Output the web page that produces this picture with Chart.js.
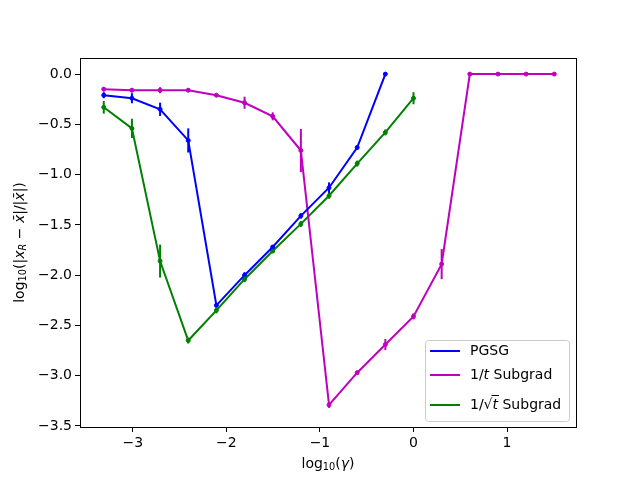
<!DOCTYPE html>
<html>
<head>
<meta charset="utf-8">
<script src="https://cdn.jsdelivr.net/npm/chart.js@4"></script>
<style>
  body { margin: 0; background: #fff; }
</style>
</head>
<body>
<canvas id="myChart" width="640" height="480"></canvas>
<script>
// x positions: log10(gamma)
const logGamma = [-3.311, -3.010, -2.709, -2.408, -2.107, -1.806, -1.505, -1.204, -0.903, -0.602, -0.301, 0, 0.301, 0.602, 0.903, 1.204, 1.505];

// PGSG
const pgsg = [-0.21, -0.24, -0.35, -0.66, -2.30, -2.00, -1.72, -1.41, -1.13, -0.73, 0.0];
const pgsgErr = [0.03, 0.05, 0.066, 0.12, 0.02, 0.03, 0.02, 0.027, 0.053, 0.02, 0];

// 1/t Subgrad
const invT = [-0.15, -0.16, -0.16, -0.16, -0.21, -0.285, -0.42, -0.76, -3.29, -2.97, -2.69, -2.41, -1.89, 0, 0, 0, 0];
const invTErr = [0.02, 0.02, 0.03, 0.02, 0.01, 0.06, 0.04, 0.215, 0.03, 0.02, 0.055, 0.03, 0.15, 0, 0, 0, 0];

// 1/sqrt(t) Subgrad
const invSqrtT = [-0.33, -0.54, -1.86, -2.65, -2.35, -2.04, -1.76, -1.49, -1.21, -0.89, -0.58, -0.24];
const invSqrtTErr = [0.063, 0.096, 0.164, 0.03, 0.03, 0.03, 0.02, 0.03, 0.03, 0.03, 0.03, 0.06];

// tick labels
const xTicks = [-3, -2, -1, 0, 1];
const yTicks = [0, -0.5, -1, -1.5, -2, -2.5, -3, -3.5];

const FONT = "DejaVu Sans";

function series(values, errs, label, color) {
  return {
    label: label,
    data: values.map((v, i) => ({ x: logGamma[i], y: v })),
    errors: errs,
    borderColor: color,
    backgroundColor: color,
    borderWidth: 2,
    pointRadius: 2,
    pointBorderWidth: 1,
    pointHoverRadius: 2,
    tension: 0,
    fill: false
  };
}

// draw text pieces with sub-scripts / italics
function drawRich(ctx, parts, size) {
  let w = 0;
  parts.forEach(p => {
    const s = p.sub ? size * 0.7 : size;
    ctx.font = (p.it ? "italic " : "") + s + "px " + FONT;
    p.w = ctx.measureText(p.t).width;
    p.s = s;
    w += p.w;
  });
  return w;
}
function paintRich(ctx, parts, x, y) {
  parts.forEach(p => {
    ctx.font = (p.it ? "italic " : "") + p.s + "px " + FONT;
    ctx.fillText(p.t, x, y + (p.sub ? p.s * 0.35 : 0));
    x += p.w;
  });
}

const extras = {
  id: 'extras',
  afterDatasetsDraw(chart) {
    const ctx = chart.ctx;
    const xs = chart.scales.x, ys = chart.scales.y;
    // error bars
    chart.data.datasets.forEach(ds => {
      ctx.save();
      ctx.strokeStyle = ds.borderColor;
      ctx.lineWidth = 2;
      ds.data.forEach((p, i) => {
        const e = ds.errors[i];
        if (!e) return;
        const px = xs.getPixelForValue(p.x);
        ctx.beginPath();
        ctx.moveTo(px, ys.getPixelForValue(p.y - e));
        ctx.lineTo(px, ys.getPixelForValue(p.y + e));
        ctx.stroke();
      });
      ctx.restore();
    });
  },
  afterDraw(chart) {
    const ctx = chart.ctx;
    const a = chart.chartArea;
    ctx.save();
    // frame
    ctx.strokeStyle = '#000';
    ctx.lineWidth = 1;
    ctx.strokeRect(Math.round(a.left) + 0.5, Math.round(a.top) + 0.5,
      Math.round(a.right - a.left), Math.round(a.bottom - a.top));

    ctx.fillStyle = '#000';
    ctx.textBaseline = 'middle';
    // x axis title
    const xt = [{ t: "log" }, { t: "10", sub: true }, { t: "(" }, { t: "γ", it: true }, { t: ")" }];
    let w = drawRich(ctx, xt, 14);
    paintRich(ctx, xt, (a.left + a.right) / 2 - w / 2, 464);
    // y axis title
    const yt = [{ t: "log" }, { t: "10", sub: true }, { t: "(|" }, { t: "x", it: true }, { t: "R", it: true, sub: true },
      { t: " − " }, { t: "x̄", it: true }, { t: "|/|" }, { t: "x̄", it: true }, { t: "|)" }];
    w = drawRich(ctx, yt, 14);
    ctx.translate(20, (a.top + a.bottom) / 2);
    ctx.rotate(-Math.PI / 2);
    paintRich(ctx, yt, -w / 2, 0);
    ctx.restore();

    // legend
    ctx.save();
    const bx = 425, by = 340, bw = 144, bh = 81;
    ctx.fillStyle = 'rgba(255,255,255,0.8)';
    ctx.strokeStyle = '#cccccc';
    ctx.lineWidth = 1;
    ctx.beginPath();
    ctx.roundRect(bx + 0.5, by + 0.5, bw, bh, 3);
    ctx.fill();
    ctx.stroke();
    const rows = [351, 375, 405];
    const labels = [
      [{ t: "PGSG" }],
      [{ t: "1/" }, { t: "t", it: true }, { t: " Subgrad" }],
      [{ t: "1/√" }, { t: "t", it: true, bar: true }, { t: " Subgrad" }]
    ];
    chart.data.datasets.forEach((ds, i) => {
      ctx.strokeStyle = ds.borderColor;
      ctx.lineWidth = 2;
      ctx.beginPath();
      ctx.moveTo(430, rows[i]);
      ctx.lineTo(460, rows[i]);
      ctx.stroke();
      ctx.fillStyle = '#000';
      ctx.textBaseline = 'middle';
      const parts = labels[i];
      drawRich(ctx, parts, 14);
      let x = 470;
      parts.forEach(p => {
        ctx.font = (p.it ? "italic " : "") + p.s + "px " + FONT;
        ctx.fillText(p.t, x, rows[i]);
        if (p.bar) {
          ctx.strokeStyle = '#000';
          ctx.lineWidth = 1;
          ctx.beginPath();
          ctx.moveTo(x - 1, rows[i] - 9.5);
          ctx.lineTo(x + p.w + 1, rows[i] - 9.5);
          ctx.stroke();
        }
        x += p.w;
      });
    });
    ctx.restore();
  }
};

const myChart = document.getElementById("myChart");

new Chart(myChart, {
  type: 'line',
  data: {
    datasets: [
      series(pgsg, pgsgErr, 'PGSG', '#0000ff'),
      series(invT, invTErr, '1/t Subgrad', '#bf00bf'),
      series(invSqrtT, invSqrtTErr, '1/√t Subgrad', '#008000')
    ]
  },
  options: {
    responsive: false,
    animation: false,
    devicePixelRatio: 1,
    layout: { padding: { left: 0, right: 64, top: 58, bottom: 0 } },
    plugins: { legend: { display: false }, tooltip: { enabled: false } },
    scales: {
      x: {
        type: 'linear',
        min: -3.565,
        max: 1.737,
        afterBuildTicks: s => { s.ticks = xTicks.map(v => ({ value: v })); },
        afterFit: s => { s.height = 53; },
        grid: { drawOnChartArea: false, drawTicks: true, tickLength: 5, color: '#000' },
        border: { color: '#000' },
        ticks: {
          color: '#000',
          padding: 3,
          maxRotation: 0,
          font: { family: FONT, size: 14 },
          callback: v => String(v).replace('-', '−')
        }
      },
      y: {
        type: 'linear',
        min: -3.51,
        max: 0.16,
        afterBuildTicks: s => { s.ticks = yTicks.map(v => ({ value: v })); },
        afterFit: s => { s.width = 80; },
        grid: { drawOnChartArea: false, drawTicks: true, tickLength: 5, color: '#000' },
        border: { color: '#000' },
        ticks: {
          color: '#000',
          padding: 3,
          font: { family: FONT, size: 14 },
          callback: v => v.toFixed(1).replace('-', '−')
        }
      }
    }
  },
  plugins: [extras]
});
</script>
</body>
</html>
